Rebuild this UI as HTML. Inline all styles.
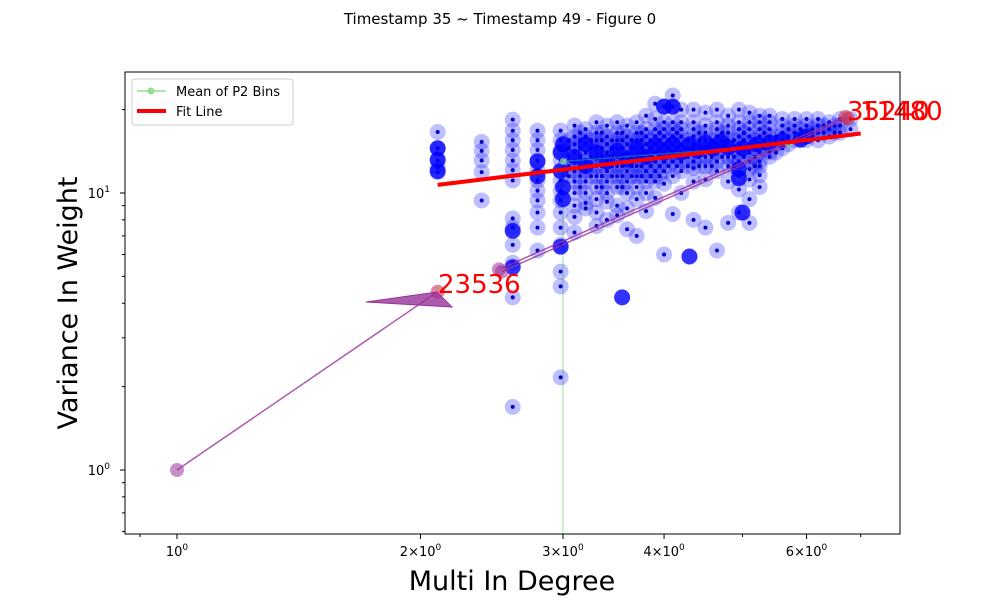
<!DOCTYPE html>
<html><head><meta charset="utf-8"><style>
body{margin:0;background:#fff;font-family:"DejaVu Sans","Liberation Sans",sans-serif}
</style></head><body>
<svg id="chart" width="1000" height="600" xmlns="http://www.w3.org/2000/svg" font-family="DejaVu Sans, Liberation Sans, sans-serif">
<rect width="1000" height="600" fill="#fff"/>
<text x="500" y="24" text-anchor="middle" font-size="15">Timestamp 35 ~ Timestamp 49 - Figure 0</text>
<g id="plot"></g>
<rect x="125" y="72" width="775" height="462" fill="none" stroke="#000" stroke-width="1"/>
<g id="axes"></g>
<text x="512" y="590" text-anchor="middle" font-size="27">Multi In Degree</text>
<text transform="translate(77,303) rotate(-90)" text-anchor="middle" font-size="27">Variance In Weight</text>
<g>
<rect x="132" y="79" width="161" height="46" rx="3" fill="#fff" fill-opacity="0.8" stroke="#ccc"/>
<line x1="137" y1="91" x2="166" y2="91" stroke="#90e090" stroke-width="1.5"/>
<circle cx="151" cy="91" r="3.5" fill="#90e090"/>
<text x="176" y="96" font-size="13">Mean of P2 Bins</text>
<line x1="137" y1="111" x2="166" y2="111" stroke="#ff0000" stroke-width="4"/>
<text x="176" y="116" font-size="13">Fit Line</text>
</g>
</svg>
<script>
const xTicks=[1,2,3,4,6];
const xTickLabels=["10","2\u00d710","3\u00d710","4\u00d710","6\u00d710"];
const xMinor=[0.9,5,7];
const yTicks=[1,10];
const yTickLabels=["10","10"];
const yMinor=[0.6,0.7,0.8,0.9,2,3,4,5,6,7,8,9,20];
// scatter columns: x value and list of y values (halo points)
const colX=[2.1,2.38,2.6,2.79,2.98,3.1,3.2,3.3,3.4,3.5,3.6,3.7,3.8,3.9,4.0,4.1,4.2,4.35,4.5,4.65,4.8,4.95,5.1,5.25,5.4,5.6,5.8,6.0,6.2,6.4,6.6,6.8,
 3.05,3.15,3.25,3.35,3.45,3.55,3.65,3.75,3.85,3.95,4.05,4.15,4.28,4.42,4.58,4.72,4.88,5.02,5.18,5.32,5.5,5.7,5.9,6.1,6.3,6.5];
const colY=[
[16.6,14.5,13.1,11.9,12.4],
[15.3,13.1,11.9,9.4,14.2],
[18.4,16.8,15.5,14.3,13.1,12.1,11.1,8.1,7.5,6.5,5.6,4.2,1.69],
[16.8,15.5,14.3,13.1,12.1,11.1,10.2,9.4,8.5,7.5,6.2],
[16.8,15.5,14.3,13.1,12.1,11.1,10.2,9.4,8.5,7.5,6.5,5.2,4.6,2.16],
[17.5,16,15,14,13,12,11,10,9,8.2,7.2],
[17,16,15,14,13,12,11,10,9.2,8.8],
[18,16.5,15.5,14.5,13.5,12.5,11.5,10.5,9.5,8.5,7.6],
[17.5,16,15,14,13,12,11,10,9.3,8],
[18,16.5,15.5,14.5,13.5,12.5,11.5,10.5,9,8.3],
[17.5,16,15,14,13,12,11,10,8.8,7.4],
[18,16.5,15.5,14.5,13.5,12.5,11.5,10.5,9.5,7],
[19,17,16,15,14,13,12,11,10,8.6],
[21,18.5,17,16,15,14,13,12,11,9.6],
[20.5,18,17,16,15,14,13,12,10.8,6],
[22.5,20.5,18,17,16,15,14,13,11.5,8.4],
[20,18,17,16,15,14,13,12,10],
[20,18,17,16,15,14,13,12.3,11,8],
[19.5,17.5,16.5,15.5,14.5,13.5,12.5,11.2,7.5],
[20,18,17,16,15,14,13,12,6.2],
[19,17.5,16.5,15.5,14.5,13.5,12.5,11,7.8],
[20,18,17,16,15,14,13,11.5,10.3,8.5],
[19.5,18,17,16,15,14,13,12.2,11.2,9.5,7.8],
[19,18,17,16,15,14,13,12.5,11.6,10.5],
[19,18,17,16,15,14,13.5],
[18.5,17.5,16.5,15.5,14.5],
[18.5,17.5,16.5,15.5],
[18.5,17.5,16.5,15.5],
[18.5,17.5,16.5,15.5],
[18,17,16],
[18.5,17.5,16.5],
[18.5,17],
[15.5,14.5,13.5,12.5,11.5],
[16.5,15.5,14.5,13.5,12.5,11.5,10.5],
[15.5,14.5,13.5,12.5,11.5],
[16.5,15.5,14.5,13.5,12.5,11.5,10.5],
[15.5,14.5,13.5,12.5,11.5],
[16.5,15.5,14.5,13.5,12.5,11.5,10.5],
[15.5,14.5,13.5,12.5,11.5],
[16.5,15.5,14.5,13.5,12.5,11.5],
[15.5,14.5,13.5,12.5,11.5],
[16.5,15.5,14.5,13.5,12.5,11.5],
[15.5,14.5,13.5,12.5],
[16.5,15.5,14.5,13.5,12.5],
[15.5,14.5,13.5,12.5],
[16.5,15.5,14.5,13.5,12.5],
[15.5,14.5,13.5,12.5],
[16.5,15.5,14.5,13.5],
[15.5,14.5,13.5,12.5],
[16.5,15.5,14.5,13.5],
[15.5,14.5,13.5,12.5],
[16.5,15.5,14.5],
[16,15,14],
[17,16,15],
[17,16,15.5],
[17,16.5],
[17.5,16.5],
[17.5,16.5]
];
// solid (dark blue) points
const solidX=[2.1,2.1,2.1,2.6,2.6,2.79,2.79,2.98,2.98,3.55,4.3,4.95,4.95,5.0,4.0,4.1,3.2,3.0,6.0,5.9,
 3.1,3.3,3.5,3.7,3.9,4.1,4.3,4.5,4.7,3.2,3.4,3.6,3.8,4.0,4.2,4.4,4.6,4.8,5.0,5.2,5.4,5.6,3.0,3.0,2.98];
const solidY=[12,13.2,14.5,7.3,5.4,11.5,13,12,6.4,4.2,5.9,11.3,12.2,8.5,20.5,20.5,15,15,16,15.6,
 13.5,14,14.2,14.5,14.8,15,15,15.2,15.3,12.5,13,13.2,13.5,14,14,14.2,14.5,14.6,14.5,15,15.2,15.5,10.5,9.5,14];
const fitX=[2.1,7.0];const fitY=[10.7,16.4];
const meanX=[3.0,5.7];const meanY=[13.0,15.0];
const X=v=>177+809*Math.log10(v);
const Y=v=>470-277*Math.log10(v);
const NS="http://www.w3.org/2000/svg";
const plot=document.getElementById('plot'),axes=document.getElementById('axes');
function mk(tag,attrs,parent){const e=document.createElementNS(NS,tag);for(const k in attrs)e.setAttribute(k,attrs[k]);parent.appendChild(e);return e;}
let vl=mk('line',{x1:X(meanX[0]),y1:Y(meanY[0]),x2:X(meanX[0]),y2:534,stroke:'#90e090','stroke-width':1.5,opacity:0.6},plot);


colX.forEach((x,i)=>colY[i].forEach(y=>{
 const c=mk('circle',{cx:X(x),cy:Y(y),r:8,fill:'#0000ff','fill-opacity':0.25},plot);
 
 
 const d=mk('circle',{cx:X(x),cy:Y(y),r:2,fill:'#0000cc'},plot);
 
 
}));
solidX.forEach((x,i)=>{
 const c=mk('circle',{cx:X(x),cy:Y(solidY[i]),r:8,fill:'#0000ff','fill-opacity':0.8},plot);
 
 
});
const arrows=[[1,1,2.1,4.4],[2.5,5.3,6.7,18.8],[2.52,5.2,6.75,18.6]];
arrows.forEach((a,i)=>{
 const l=mk('line',{x1:X(a[0]),y1:Y(a[1]),x2:X(a[2]),y2:Y(a[3]),stroke:'#993399','stroke-width':1.5,opacity:0.8},plot);
 
 
 const c=mk('circle',{cx:X(a[0]),cy:Y(a[1]),r:7,fill:'#993399','fill-opacity':0.55},plot);
 
 
 const c2=mk('circle',{cx:X(a[2]),cy:Y(a[3]),r:7,fill:'#cc3355','fill-opacity':0.6},plot);
 
 
});
const head=mk('polygon',{points:'366,302 437,292 452,307',fill:'#993399','fill-opacity':0.8,stroke:'#993399'},plot);


const ml=mk('line',{x1:X(meanX[0]),y1:Y(meanY[0]),x2:X(meanX[1]),y2:Y(meanY[1]),stroke:'#209090','stroke-width':1.2,opacity:0.7},plot);


meanX.forEach((x,i)=>{const c=mk('circle',{cx:X(x),cy:Y(meanY[i]),r:3.5,fill:'#90e090',opacity:0.7},plot);

});
const fl=mk('line',{x1:X(fitX[0]),y1:Y(fitY[0]),x2:X(fitX[1]),y2:Y(fitY[1]),stroke:'#ff0000','stroke-width':4},plot);


const labs=[["23536",438,293],["35240",847,120],["11480",860,120]];
labs.forEach(l=>{const t=mk('text',{x:l[1],y:l[2],fill:'#ff0000','font-size':26},plot);t.textContent=l[0];

});
xTicks.forEach((v,i)=>{const x=X(v);mk('line',{x1:x,y1:534,x2:x,y2:539,stroke:'#000'},axes);
 const t=mk('text',{x:x,y:556,'text-anchor':'middle','font-size':13},axes);
 
 
 t.textContent=xTickLabels[i];const s=mk('tspan',{dy:-6,'font-size':9},t);s.textContent='0';});
xMinor.forEach(v=>mk('line',{x1:X(v),y1:534,x2:X(v),y2:537,stroke:'#000'},axes));
yTicks.forEach((v,i)=>{const y=Y(v);mk('line',{x1:120,y1:y,x2:125,y2:y,stroke:'#000'},axes);
 const t=mk('text',{x:110,y:y+5,'text-anchor':'end','font-size':13},axes);
 
 
 t.textContent=yTickLabels[i];const s=mk('tspan',{dy:-6,'font-size':9},t);s.textContent=i==0?'0':'1';});
yMinor.forEach(v=>mk('line',{x1:122,y1:Y(v),x2:125,y2:Y(v),stroke:'#000'},axes));
</script>
</body></html>
